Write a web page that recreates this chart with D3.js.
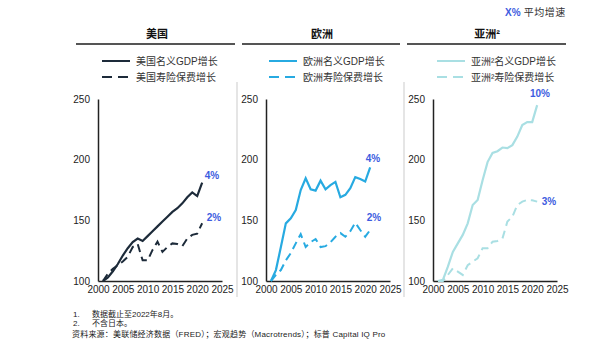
<!DOCTYPE html>
<html><head><meta charset="utf-8">
<script src="https://cdn.jsdelivr.net/npm/d3@7"></script>
<style>
body{margin:0;background:#fff;}
text{font-family:"Liberation Sans","Noto Sans CJK SC",Arial,sans-serif;}
</style></head>
<body><svg id="c" width="600" height="356"></svg>
<script>
const years = [2001,2002,2003,2004,2005,2006,2007,2008,2009,2010,2011,2012,2013,2014,2015,2016,2017,2018,2019,2020,2021];
const usGdp   = [100,103,108,114,121,127,132,135,133,137,141,145,149,153,157,160,164,169,173,170,181];
const usIns   = [100,106,110,113,116,120,128,130.5,117,117,125.6,132.4,124,128,131,130.5,128.7,135,138,139,147.6];
const euGdp   = [100,109,128,147.5,151.7,158.5,175,184.7,175.6,174.5,182.7,175.6,179,181.7,169,171,176.5,185.6,184,182,193.7];
const euIns   = [100,105,109,117,123,131,138.7,128,132,134.6,128,128.7,132,136.5,139.5,136.5,141,148,142,136.5,142];
const asGdp   = [100,101,111.8,124,131,138,147.5,162.6,166.8,183,198,205.5,207,210,209.5,212,219,228.6,231,231,245];
const asIns   = [100,100,105,110.4,107.7,105,113,116,118.7,127,127,132.4,133,135,149,153,162.6,165.4,166.8,166.5,165.4];
const xTicks = [2000,2005,2010,2015,2020,2025];
const yTicks = [100,150,200,250];
const panelTitles = ["美国","欧洲","亚洲²"];
const legendGdp = ["美国名义GDP增长","欧洲名义GDP增长","亚洲²名义GDP增长"];
const legendIns = ["美国寿险保费增长","欧洲寿险保费增长","亚洲²寿险保费增长"];
const gdpCagr = ["4%","4%","10%"];
const insCagr = ["2%","2%","3%"];
const footnotes = ["1.","数据截止至2022年8月。","2.","不含日本。"];
const source = "资料来源：美联储经济数据（FRED）；宏观趋势（Macrotrends）；标普 Capital IQ Pro";

const colors = ["#1d2b3a","#27aae1","#a9dfe3"];
const series = [[usGdp,usIns],[euGdp,euIns],[asGdp,asIns]];
const svg = d3.select("#c");
const axisX = [98,266,433];
const titleX = [157,322,487];
const lineSpan = [[76,235],[242,400],[407,566]];
const legX = [102,269,437];
const labelCol = "#3d5ce0";
const gdpLabelPos = [[212,179],[373,162],[540,97]];
const insLabelPos = [[214,221],[374,221],[549,205]];

// dividers
[237,404].forEach(x=>svg.append("line").attr("x1",x).attr("x2",x).attr("y1",82).attr("y2",297).attr("stroke","#dcdcdc").attr("stroke-width",1.5));

// top right legend
const tr = svg.append("text").attr("x",505).attr("y",16).attr("font-size",10);
tr.append("tspan").attr("fill",labelCol).attr("font-weight","bold").text("X%");
tr.append("tspan").attr("fill","#333").attr("font-size",10).attr("letter-spacing",0.5).text(" 平均增速");

for(let p=0;p<3;p++){
  const x = d3.scaleLinear().domain([2000,2025]).range([axisX[p],axisX[p]+124]);
  const y = d3.scaleLinear().domain([100,250]).range([281,99]);
  const g = svg.append("g");
  g.append("text").attr("x",titleX[p]).attr("y",38).attr("text-anchor","middle").attr("font-size",11).attr("font-weight","bold").attr("fill","#111").text(panelTitles[p]);
  g.append("line").attr("x1",lineSpan[p][0]).attr("x2",lineSpan[p][1]).attr("y1",44).attr("y2",44).attr("stroke","#555").attr("stroke-width",2);
  // legend
  g.append("line").attr("x1",legX[p]).attr("x2",legX[p]+28).attr("y1",61).attr("y2",61).attr("stroke",colors[p]).attr("stroke-width",2);
  g.append("line").attr("x1",legX[p]).attr("x2",legX[p]+28).attr("y1",77).attr("y2",77).attr("stroke",colors[p]).attr("stroke-width",2).attr("stroke-dasharray","10,6");
  g.append("text").attr("x",legX[p]+34).attr("y",65).attr("font-size",10).attr("fill","#333").text(legendGdp[p]);
  g.append("text").attr("x",legX[p]+34).attr("y",81).attr("font-size",10).attr("fill","#333").text(legendIns[p]);
  // axes
  const ya = g.append("g").attr("transform",`translate(${axisX[p]},0)`).call(d3.axisLeft(y).tickValues(yTicks).tickSize(0).tickPadding(8));
  const xa = g.append("g").attr("transform",`translate(0,281)`).call(d3.axisBottom(x).tickValues(xTicks).tickFormat(d3.format("d")).tickSize(0).tickPadding(5));
  [ya,xa].forEach(a=>{a.select(".domain").attr("stroke","#222").attr("stroke-width",1.5);
    a.selectAll("text").attr("font-size",10).attr("fill","#222").attr("font-family","Liberation Sans, Arial, sans-serif");});
  const line = d3.line().x((d,i)=>x(years[i])).y(d=>y(d));
  g.append("path").datum(series[p][1]).attr("d",line).attr("fill","none").attr("stroke",colors[p]).attr("stroke-width",2).attr("stroke-dasharray","8,5");
  g.append("path").datum(series[p][0]).attr("d",line).attr("fill","none").attr("stroke",colors[p]).attr("stroke-width",2.2);
  g.append("text").attr("x",gdpLabelPos[p][0]).attr("y",gdpLabelPos[p][1]).attr("text-anchor","middle").attr("font-size",10).attr("font-weight","bold").attr("fill",labelCol).text(gdpCagr[p]);
  g.append("text").attr("x",insLabelPos[p][0]).attr("y",insLabelPos[p][1]).attr("text-anchor","middle").attr("font-size",10).attr("font-weight","bold").attr("fill",labelCol).text(insCagr[p]);
}
// footnotes
const fs=8;
svg.append("text").attr("x",73).attr("y",317).attr("font-size",fs).attr("fill","#222").text(footnotes[0]);
svg.append("text").attr("x",92).attr("y",317).attr("font-size",fs).attr("fill","#222").text(footnotes[1]);
svg.append("text").attr("x",73).attr("y",326).attr("font-size",fs).attr("fill","#222").text(footnotes[2]);
svg.append("text").attr("x",92).attr("y",326).attr("font-size",fs).attr("fill","#222").text(footnotes[3]);
svg.append("text").attr("x",72).attr("y",337).attr("font-size",fs).attr("letter-spacing",0.2).attr("fill","#222").text(source);
</script></body></html>
